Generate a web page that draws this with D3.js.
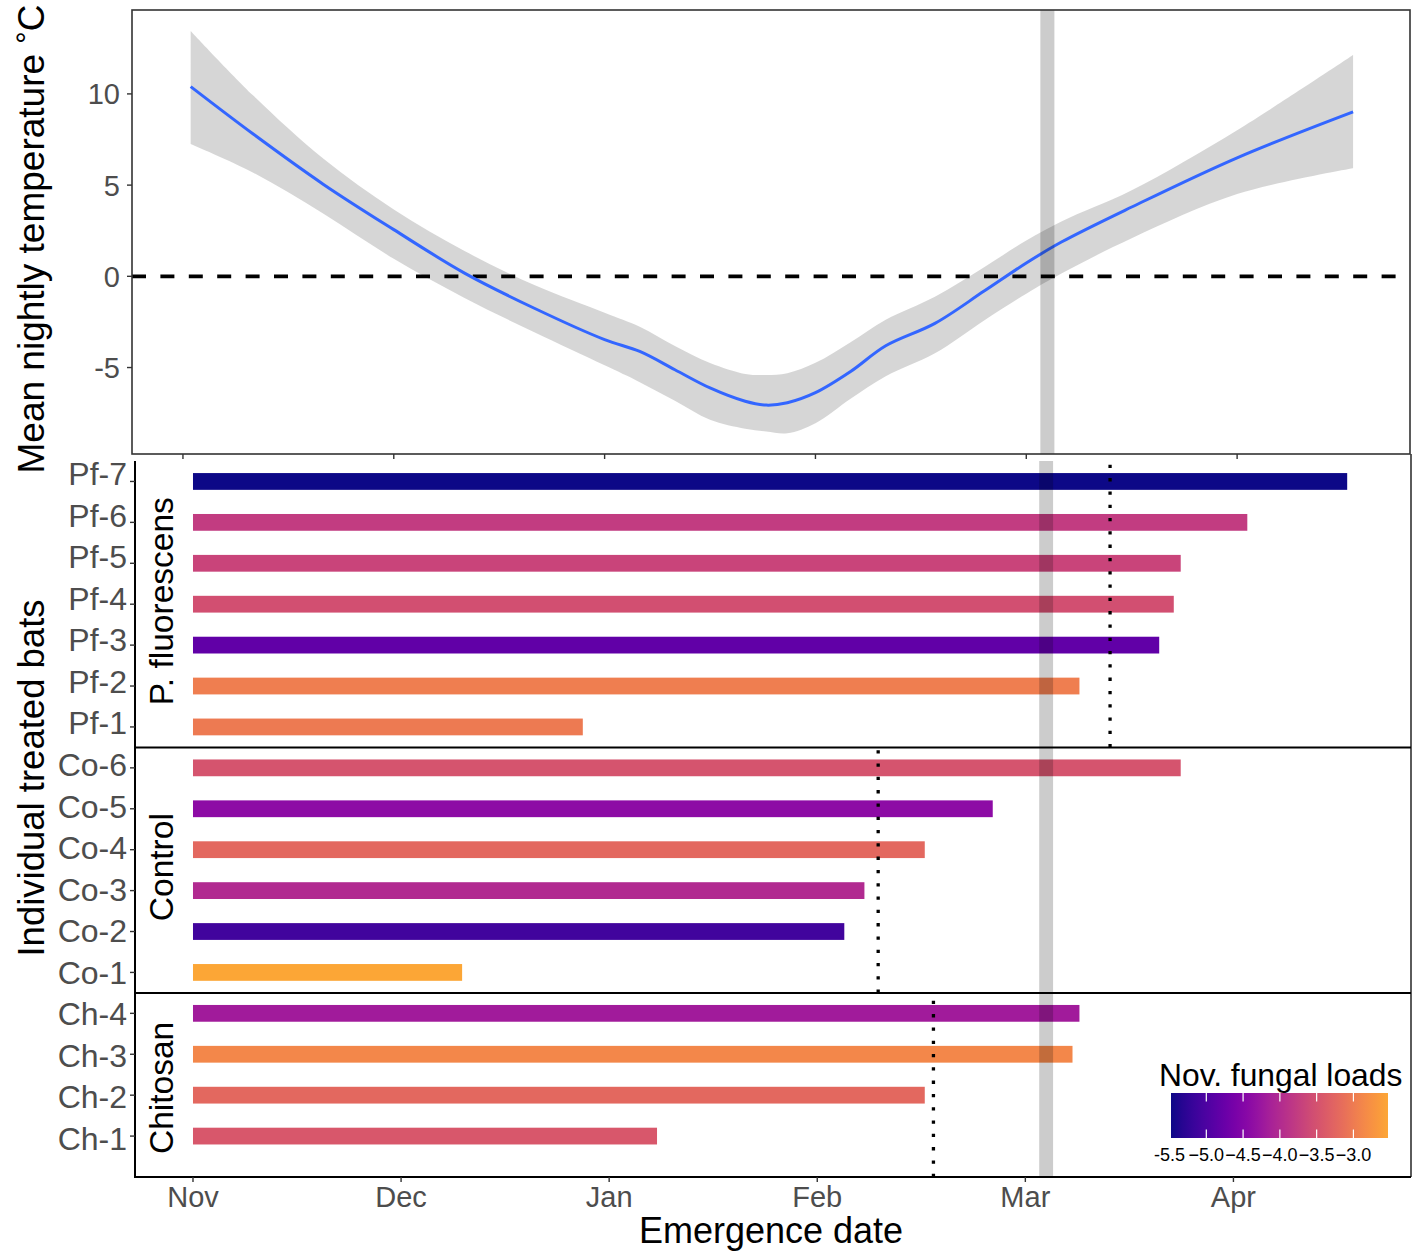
<!DOCTYPE html>
<html>
<head>
<meta charset="utf-8">
<script src="https://cdn.jsdelivr.net/npm/d3@7"></script>
<style>
  html, body { margin: 0; padding: 0; background: #fff; }
  svg { display: block; font-family: 'Liberation Sans', Arial, Helvetica, sans-serif; }
</style>
</head>
<body>
<svg id="chart" width="1413" height="1255"></svg>
<script>
// Days are counted from 1 November; breaks every 30 days carry month names.
const monthBreaks = [0, 30, 60, 90, 120, 150];
const monthLabels = ["Nov", "Dec", "Jan", "Feb", "Mar", "Apr"];

// Smoothed mean nightly temperature (°C) with its confidence band.
const tempDay   = [1.1, 10, 20, 30, 40, 50, 60, 65, 70, 75, 80, 83, 86, 90, 95, 100, 107, 114, 120, 125, 135, 150, 166.5];
const tempFit   = [10.4, 7.8, 5.04, 2.56, 0.19, -1.75, -3.47, -4.12, -5.12, -6.12, -6.85, -7.06, -6.93, -6.38, -5.22, -3.81, -2.58, -0.81, 0.73, 1.88, 3.8, 6.5, 9.02];
const tempLower = [7.25, 5.68, 3.43, 0.96, -1.17, -3.07, -4.88, -5.8, -6.82, -7.86, -8.35, -8.5, -8.6, -8.05, -6.71, -5.48, -4.22, -2.42, -0.95, 0.15, 2.09, 4.51, 5.92];
const tempUpper = [13.45, 9.91, 6.44, 3.66, 1.4, -0.48, -2.0, -2.77, -3.82, -4.75, -5.35, -5.41, -5.31, -4.74, -3.61, -2.38, -1.12, 0.5, 1.96, 3.01, 4.72, 8.01, 12.13];
const tempTicks = [10, 5, 0, -5];

// Highlighted period (days from 1 November).
const bandDays = [122, 124];

// Treatment groups, individual bats, emergence day and November fungal load.
const groupNames = ["P. fluorescens", "Control", "Chitosan"];

const pfBats      = ["Pf-7", "Pf-6", "Pf-5", "Pf-4", "Pf-3", "Pf-2", "Pf-1"];
const pfEmergence = [166.4, 152.0, 142.4, 141.4, 139.3, 127.8, 56.2];
const pfLoad      = [-5.48, -3.78, -3.67, -3.53, -4.82, -2.97, -3.01];

const coBats      = ["Co-6", "Co-5", "Co-4", "Co-3", "Co-2", "Co-1"];
const coEmergence = [142.4, 115.3, 105.5, 96.8, 93.9, 38.8];
const coLoad      = [-3.47, -4.41, -3.23, -4.01, -5.11, -2.53];

const chBats      = ["Ch-4", "Ch-3", "Ch-2", "Ch-1"];
const chEmergence = [127.8, 126.8, 105.5, 66.9];
const chLoad      = [-4.19, -2.86, -3.23, -3.43];

const loadTicks      = [-5.5, -5.0, -4.5, -4.0, -3.5, -3.0];
const loadTickLabels = ["-5.5", "\u22125.0", "\u22124.5", "\u22124.0", "\u22123.5", "\u22123.0"];

// ---------------------------------------------------------------------------
const svg = d3.select("#chart");
const gridCol = "#333333";
const tickTextCol = "#4d4d4d";

// Panel frames
const tempBox = { l: 132, r: 1410, t: 10, b: 454 };
const batBox  = { l: 135, r: 1411, t: 461, b: 1177 };

// Scales
const xTop = d3.scaleLinear().domain([-7.25, 174.6]).range([tempBox.l, tempBox.r]);
const yTop = d3.scaleLinear().domain([-9.74, 14.6]).range([tempBox.b, tempBox.t]);
const xBot = d3.scaleLinear().domain([-8.36, 175.6]).range([batBox.l, batBox.r]);

// ===================== Temperature panel =====================
const tempRows = tempDay.map((d, i) => ({ d, fit: tempFit[i], lo: tempLower[i], hi: tempUpper[i] }));
const curve = d3.curveCatmullRom.alpha(0.5);

svg.append("path")
  .datum(tempRows)
  .attr("d", d3.area().x(r => xTop(r.d)).y0(r => yTop(r.lo)).y1(r => yTop(r.hi)).curve(curve))
  .attr("fill", "#999999").attr("fill-opacity", 0.4);

svg.append("line")
  .attr("x1", tempBox.l).attr("x2", tempBox.r)
  .attr("y1", yTop(0)).attr("y2", yTop(0))
  .attr("stroke", "#000").attr("stroke-width", 3.8)
  .attr("stroke-dasharray", "14 14.4");

svg.append("path")
  .datum(tempRows)
  .attr("d", d3.line().x(r => xTop(r.d)).y(r => yTop(r.fit)).curve(curve))
  .attr("fill", "none").attr("stroke", "#3366FF").attr("stroke-width", 3);

svg.append("rect")
  .attr("x", xTop(bandDays[0])).attr("width", xTop(bandDays[1]) - xTop(bandDays[0]))
  .attr("y", tempBox.t).attr("height", tempBox.b - tempBox.t)
  .attr("fill", "#000").attr("fill-opacity", 0.2);

svg.append("rect")
  .attr("x", tempBox.l).attr("y", tempBox.t)
  .attr("width", tempBox.r - tempBox.l).attr("height", tempBox.b - tempBox.t)
  .attr("fill", "none").attr("stroke", gridCol).attr("stroke-width", 1.6);

// y ticks & labels
tempTicks.forEach(v => {
  svg.append("line").attr("x1", tempBox.l - 5).attr("x2", tempBox.l)
    .attr("y1", yTop(v)).attr("y2", yTop(v)).attr("stroke", gridCol).attr("stroke-width", 1.4);
  svg.append("text").attr("x", tempBox.l - 12).attr("y", yTop(v)).attr("dy", "0.36em")
    .attr("text-anchor", "end").attr("font-size", 29).attr("fill", tickTextCol).text(v);
});
// x ticks (no labels) under the temperature panel
monthBreaks.forEach(v => {
  svg.append("line").attr("x1", xTop(v)).attr("x2", xTop(v))
    .attr("y1", tempBox.b).attr("y2", tempBox.b + 5).attr("stroke", gridCol).attr("stroke-width", 1.4);
});

// Axis title with degree sign
const tTitle = svg.append("text")
  .attr("transform", `translate(44, ${(tempBox.t + tempBox.b) / 2 + 7}) rotate(-90)`)
  .attr("text-anchor", "middle").attr("font-size", 37).attr("fill", "#000");
tTitle.append("tspan").text("Mean nightly temperature ");
tTitle.append("tspan").attr("font-size", 31).attr("dy", -6).text("\u00B0");
tTitle.append("tspan").attr("dy", 6).text("C");

// ===================== Emergence panels =====================
const groups = [
  { name: groupNames[0], bats: pfBats, emerge: pfEmergence, load: pfLoad, extra: 0 },
  { name: groupNames[1], bats: coBats, emerge: coEmergence, load: coLoad, extra: 0 },
  // the last panel keeps half a row of spare room at its foot
  { name: groupNames[2], bats: chBats, emerge: chEmergence, load: chLoad, extra: 0.5 }
];
const totalSlots = d3.sum(groups, g => g.bats.length + g.extra);
const step = (batBox.b - batBox.t) / totalSlots;
const barH = step * 0.41;

const allLoads = groups.flatMap(g => g.load);
const loadExtent = d3.extent(allLoads);
const loadFrac = d3.scaleLinear().domain(loadExtent).range([0, 0.8]);
const colour = v => d3.interpolatePlasma(loadFrac(v));

// Bat name labels sit on their own evenly spaced column
const allBats = groups.flatMap(g => g.bats);
const yLabel = d3.scalePoint().domain(allBats).range([453, 1159]).padding(0.5);

let yCursor = batBox.t;
groups.forEach(g => {
  const h = (g.bats.length + g.extra) * step;
  g.top = yCursor; g.bottom = yCursor + h;
  g.y = d3.scalePoint().domain(g.bats).range([yCursor, yCursor + g.bats.length * step]).padding(0.5);
  yCursor += h;
});

groups.forEach(g => {
  g.bats.forEach((b, i) => {
    svg.append("rect")
      .attr("x", xBot(0)).attr("width", xBot(g.emerge[i]) - xBot(0))
      .attr("y", g.y(b) - barH / 2).attr("height", barH)
      .attr("fill", colour(g.load[i]));
  });
});

// highlighted period across the emergence panels
svg.append("rect")
  .attr("x", xBot(bandDays[0])).attr("width", xBot(bandDays[1]) - xBot(bandDays[0]))
  .attr("y", batBox.t).attr("height", batBox.b - batBox.t)
  .attr("fill", "#000").attr("fill-opacity", 0.2);

// group mean emergence
groups.forEach(g => {
  const m = d3.mean(g.emerge);
  svg.append("line")
    .attr("x1", xBot(m)).attr("x2", xBot(m))
    .attr("y1", g.bottom).attr("y2", g.top)
    .attr("stroke", "#000").attr("stroke-width", 3.3)
    .attr("stroke-dasharray", "3.3 10");
});

// frame: left axis, right edge, separators, bottom axis
svg.append("line").attr("x1", batBox.l).attr("x2", batBox.l).attr("y1", batBox.t).attr("y2", batBox.b + 1)
  .attr("stroke", "#000").attr("stroke-width", 2);
svg.append("line").attr("x1", batBox.r).attr("x2", batBox.r).attr("y1", tempBox.b).attr("y2", batBox.b)
  .attr("stroke", gridCol).attr("stroke-width", 1.6);
groups.forEach(g => {
  svg.append("line").attr("x1", batBox.l).attr("x2", batBox.r).attr("y1", g.bottom).attr("y2", g.bottom)
    .attr("stroke", "#000").attr("stroke-width", 2);
});

// strip labels
groups.forEach(g => {
  svg.append("text")
    .attr("transform", `translate(173, ${(g.top + g.bottom) / 2 + g.extra * 12 - 3}) rotate(-90)`)
    .attr("text-anchor", "middle").attr("font-size", 33.5).attr("fill", "#000")
    .text(g.name);
});

// y ticks and bat labels
groups.forEach(g => {
  g.bats.forEach(b => {
    svg.append("line").attr("x1", batBox.l - 5).attr("x2", batBox.l)
      .attr("y1", g.y(b)).attr("y2", g.y(b)).attr("stroke", gridCol).attr("stroke-width", 1.4);
    svg.append("text").attr("x", 127).attr("y", yLabel(b)).attr("dy", "0.36em")
      .attr("text-anchor", "end").attr("font-size", 32).attr("fill", tickTextCol).text(b);
  });
});

// x axis ticks and month labels
monthBreaks.forEach((v, i) => {
  svg.append("line").attr("x1", xBot(v)).attr("x2", xBot(v))
    .attr("y1", batBox.b).attr("y2", batBox.b + 5).attr("stroke", gridCol).attr("stroke-width", 1.4);
  svg.append("text").attr("x", xBot(v)).attr("y", 1207)
    .attr("text-anchor", "middle").attr("font-size", 29).attr("fill", tickTextCol)
    .text(monthLabels[i]);
});

svg.append("text").attr("x", (batBox.l + batBox.r) / 2 - 2).attr("y", 1243)
  .attr("text-anchor", "middle").attr("font-size", 36).attr("fill", "#000")
  .text("Emergence date");

svg.append("text")
  .attr("transform", `translate(44, 778) rotate(-90)`)
  .attr("text-anchor", "middle").attr("font-size", 36.5).attr("fill", "#000")
  .text("Individual treated bats");

// ===================== Colour legend =====================
const leg = { l: 1171, r: 1388, t: 1093, b: 1138 };
const legX = d3.scaleLinear().domain(loadExtent).range([leg.l, leg.r]);

const grad = svg.append("defs").append("linearGradient").attr("id", "plasmaBar")
  .attr("x1", "0%").attr("x2", "100%").attr("y1", "0%").attr("y2", "0%");
d3.range(0, 1.0001, 0.05).forEach(t => {
  grad.append("stop").attr("offset", `${t * 100}%`).attr("stop-color", d3.interpolatePlasma(0.8 * t));
});

svg.append("text").attr("x", 1159).attr("y", 1086)
  .attr("font-size", 31.8).attr("fill", "#000").text("Nov. fungal loads");

svg.append("rect").attr("x", leg.l).attr("y", leg.t)
  .attr("width", leg.r - leg.l).attr("height", leg.b - leg.t)
  .attr("fill", "url(#plasmaBar)");

loadTicks.forEach((v, i) => {
  const x = legX(v);
  if (v >= loadExtent[0] && v <= loadExtent[1]) {
    svg.append("line").attr("x1", x).attr("x2", x).attr("y1", leg.t).attr("y2", leg.t + 8.5)
      .attr("stroke", "#fff").attr("stroke-width", 1.2);
    svg.append("line").attr("x1", x).attr("x2", x).attr("y1", leg.b - 8.5).attr("y2", leg.b)
      .attr("stroke", "#fff").attr("stroke-width", 1.2);
  }
  svg.append("text").attr("x", x).attr("y", 1161)
    .attr("text-anchor", "middle").attr("font-size", 18).attr("fill", "#000")
    .text(loadTickLabels[i]);
});
</script>
</body>
</html>
